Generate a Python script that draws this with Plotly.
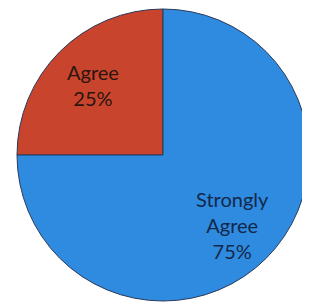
import math
import plotly.graph_objects as go

labels = ["Agree", "Strongly Agree"]
values = [25, 75]
display_text = ["Agree<br>25%", "Strongly<br>Agree<br>75%"]
colors = ["#C8442C", "#2F8BE0"]
text_colors = ["#2a1510", "#13284a"]

W, H = 301, 294
L = 9
rotation = 270

fig = go.Figure(go.Pie(
    labels=labels,
    values=values,
    textinfo="none",
    sort=False,
    direction="clockwise",
    rotation=rotation,
    marker=dict(colors=colors, line=dict(color="#2a3a5a", width=1)),
    hoverinfo="label+percent",
))

# place labels at the middle angle of each slice
pw, ph = W - L, H
rad = min(pw, ph) / 2
total = sum(values)
cum = 0
for lab, v, tc in zip(display_text, values, text_colors):
    mid = math.radians(rotation + 360 * (cum + v / 2) / total)
    cum += v
    dx = 0.675 * rad * math.sin(mid)
    dy = 0.675 * rad * math.cos(mid)
    fig.add_annotation(
        x=0.5 + dx / pw, y=0.5 + dy / ph,
        xref="paper", yref="paper",
        xanchor="center", yanchor="middle",
        text=lab, showarrow=False,
        font=dict(family="Lato", size=20, color=tc),
        align="center",
    )

fig.update_layout(
    width=W, height=H,
    margin=dict(l=L, r=0, t=0, b=0),
    showlegend=False,
    paper_bgcolor="white",
    plot_bgcolor="white",
)

fig.write_html("out.html")
